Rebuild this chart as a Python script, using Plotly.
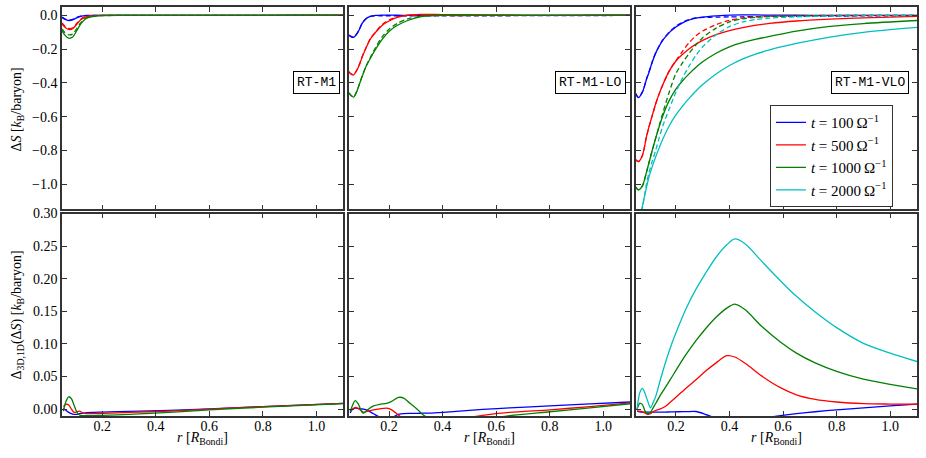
import plotly.graph_objects as go
from plotly.subplots import make_subplots

# ---------------- data ----------------
times = ["100", "500", "1000", "2000"]
colors = ["#0000ff", "#ff0000", "#008000", "#00bfbf"]
panel_names = ["RT-M1", "RT-M1-LO", "RT-M1-VLO"]
xticks = [0.2, 0.4, 0.6, 0.8, 1.0]
yticks_top = [-1.0, -0.8, -0.6, -0.4, -0.2, 0.0]
yticks_bot = [0.0, 0.05, 0.10, 0.15, 0.20, 0.25, 0.30]

# --- top row: Delta S (3D solid, 1D dashed) ---
r_m1 = [0.05, 0.06, 0.075, 0.09, 0.105, 0.12, 0.14, 0.17, 0.2, 0.3, 0.5, 0.7, 0.9, 1.1]
ds_m1_t100 = [-0.012, -0.022, -0.03, -0.026, -0.014, -0.005, -0.001, 0.0, 0.0, 0.0, 0.0, 0.0, 0.001, 0.002]
ds_m1_t500 = [-0.05, -0.068, -0.083, -0.078, -0.052, -0.025, -0.008, -0.002, 0.0, 0.0, 0.0, 0.0, 0.0, 0.001]
ds_m1_t1000 = [-0.09, -0.115, -0.135, -0.128, -0.09, -0.05, -0.018, -0.005, -0.001, 0.0, 0.0, 0.0, 0.0, 0.0]
ds1d_m1_t100 = [-0.01, -0.02, -0.028, -0.024, -0.012, -0.004, 0.0, 0.0, 0.0, 0.0, 0.0, 0.0, 0.0, 0.0]
ds1d_m1_t500 = [-0.045, -0.062, -0.077, -0.073, -0.048, -0.022, -0.006, -0.001, 0.0, 0.0, 0.0, 0.0, 0.0, 0.0]
ds1d_m1_t1000 = [-0.08, -0.1, -0.115, -0.11, -0.078, -0.043, -0.015, -0.004, -0.001, 0.0, 0.0, 0.0, 0.0, 0.0]

r_lo = [0.05, 0.06, 0.068, 0.08, 0.09, 0.1, 0.115, 0.13, 0.15, 0.175, 0.2, 0.23, 0.27, 0.32, 0.4, 0.6, 0.8, 1.1]
ds_lo_t100 = [-0.118, -0.128, -0.13, -0.11, -0.08, -0.046, -0.018, -0.006, 0.0, 0.002, 0.002, 0.001, 0.0, 0.0, 0.0, 0.0, 0.0, 0.002]
ds_lo_t500 = [-0.335, -0.35, -0.352, -0.325, -0.29, -0.245, -0.19, -0.14, -0.1, -0.058, -0.033, -0.012, 0.002, 0.006, 0.005, 0.002, 0.0, 0.001]
ds_lo_t1000 = [-0.46, -0.478, -0.484, -0.45, -0.405, -0.36, -0.3, -0.255, -0.2, -0.14, -0.095, -0.06, -0.03, -0.007, 0.002, 0.002, 0.0, 0.0]
ds1d_lo_t100 = [-0.116, -0.126, -0.128, -0.108, -0.078, -0.045, -0.018, -0.006, -0.002, -0.002, -0.002, -0.002, -0.002, -0.002, -0.002, -0.002, -0.001, 0.0]
ds1d_lo_t500 = [-0.333, -0.348, -0.35, -0.323, -0.288, -0.243, -0.188, -0.138, -0.097, -0.053, -0.027, -0.009, 0.0, 0.002, 0.0, 0.0, 0.0, 0.0]
ds1d_lo_t1000 = [-0.458, -0.476, -0.482, -0.448, -0.403, -0.358, -0.298, -0.25, -0.19, -0.125, -0.082, -0.048, -0.02, -0.004, 0.0, 0.0, 0.0, 0.0]

r_vlo = [0.05, 0.06, 0.075, 0.09, 0.1, 0.1125, 0.125, 0.1375, 0.15, 0.175, 0.2, 0.225,
         0.25, 0.275, 0.3, 0.35, 0.4, 0.45, 0.5, 0.55, 0.65, 0.775, 0.9, 1.1]
ds_vlo_t100 = [-0.465, -0.487, -0.455, -0.38, -0.335, -0.273, -0.222, -0.183, -0.15, -0.102, -0.068, -0.044,
               -0.027, -0.016, -0.01, -0.003, 0.002, 0.003, 0.003, 0.002, 0.001, 0.0, 0.0, 0.0]
ds_vlo_t500 = [-0.855, -0.866, -0.83, -0.72, -0.658, -0.589, -0.522, -0.465, -0.415, -0.33, -0.27, -0.23,
               -0.197, -0.17, -0.148, -0.114, -0.09, -0.072, -0.058, -0.047, -0.033, -0.022, -0.014, -0.005]
ds_vlo_t1000 = [-1.018, -1.034, -1.01, -0.93, -0.87, -0.795, -0.725, -0.66, -0.6, -0.505, -0.437, -0.387,
                -0.345, -0.307, -0.275, -0.224, -0.186, -0.16, -0.14, -0.124, -0.093, -0.065, -0.048, -0.03]
ds_vlo_t2000 = [-1.3, -1.25, -1.13, -1.02, -0.955, -0.893, -0.836, -0.785, -0.737, -0.655, -0.59, -0.537,
                -0.49, -0.448, -0.41, -0.347, -0.297, -0.258, -0.228, -0.204, -0.166, -0.128, -0.1, -0.071]
ds1d_vlo_t100 = [-0.463, -0.485, -0.453, -0.378, -0.333, -0.271, -0.22, -0.181, -0.148, -0.1, -0.064, -0.04,
                 -0.024, -0.015, -0.012, -0.01, -0.009, -0.008, -0.007, -0.006, -0.005, -0.004, -0.003, -0.002]
ds1d_vlo_t500 = [-0.855, -0.866, -0.83, -0.72, -0.658, -0.589, -0.522, -0.465, -0.415, -0.33, -0.268, -0.212,
                 -0.16, -0.12, -0.092, -0.055, -0.029, -0.015, -0.008, -0.005, -0.002, 0.0, 0.0, 0.0]
ds1d_vlo_t1000 = [-1.018, -1.034, -1.01, -0.93, -0.87, -0.795, -0.725, -0.655, -0.585, -0.455, -0.345, -0.28,
                  -0.223, -0.174, -0.132, -0.075, -0.038, -0.02, -0.011, -0.006, -0.003, -0.001, 0.0, 0.0]
ds1d_vlo_t2000 = [-1.3, -1.25, -1.14, -1.0, -0.93, -0.86, -0.797, -0.727, -0.66, -0.555, -0.455, -0.37,
                  -0.298, -0.236, -0.186, -0.115, -0.066, -0.038, -0.024, -0.016, -0.008, -0.004, -0.002, 0.0]

# --- bottom row: Delta_3D,1D (Delta S) ---
rb_m1 = [0.055, 0.065, 0.075, 0.085, 0.095, 0.105, 0.115, 0.13, 0.16, 0.2, 0.3, 0.45, 0.6, 0.8, 1.1]
dd_m1_t100 = [0.001, -0.002, -0.005, -0.007, -0.008, -0.008, -0.007, -0.006, -0.005, -0.0045, -0.0035, -0.002, 0.0005, 0.004, 0.009]
dd_m1_t500 = [0.004, 0.0075, 0.0065, 0.0, -0.005, -0.004, -0.003, -0.006, -0.007, -0.0065, -0.005, -0.003, 0.0, 0.004, 0.009]
dd_m1_t1000 = [-0.003, 0.012, 0.019, 0.016, 0.006, -0.004, -0.009, -0.01, -0.01, -0.0095, -0.008, -0.005, -0.001, 0.003, 0.0085]

rb_lo = [0.055, 0.062, 0.0735, 0.085, 0.098, 0.105, 0.12, 0.142, 0.165, 0.191, 0.21, 0.235,
         0.255, 0.278, 0.305, 0.328, 0.36, 0.45, 0.55, 0.65, 0.8, 0.95, 1.1]
dd_lo_t100 = [-0.006, -0.001, 0.0015, 0.001, 0.0003, 0.0, -0.002, -0.007, -0.012, -0.014, -0.013, -0.008,
              -0.0068, -0.0066, -0.0064, -0.0062, -0.006, -0.0035, -0.0005, 0.002, 0.005, 0.008, 0.011]
dd_lo_t500 = [-0.003, 0.0, 0.0025, 0.001, -0.003, -0.005, -0.003, -0.001, 0.0005, 0.0015, -0.001, -0.009,
              -0.015, -0.018, -0.02, -0.02, -0.02, -0.016, -0.0095, -0.005, -0.001, 0.004, 0.0097]
dd_lo_t1000 = [-0.004, 0.004, 0.013, 0.008, -0.004, -0.006, -0.001, 0.005, 0.0075, 0.009, 0.012, 0.018,
               0.017, 0.009, 0.0, -0.009, -0.016, -0.02, -0.016, -0.01, -0.004, 0.002, 0.0083]

rb_vlo = [0.055, 0.065, 0.075, 0.085, 0.095, 0.105, 0.115, 0.125, 0.14, 0.16, 0.18, 0.21, 0.24, 0.275,
          0.31, 0.35, 0.39, 0.42, 0.46, 0.52, 0.59, 0.65, 0.72, 0.8, 0.9, 1.0, 1.1]
dd_vlo_t100 = [-0.003, -0.004, -0.0045, -0.0045, -0.0045, -0.0045, -0.0045, -0.0045, -0.0045, -0.0045, -0.0043, -0.004,
               -0.0038, -0.0036, -0.008, -0.014, -0.017, -0.018, -0.017, -0.014, -0.01, -0.007, -0.004, -0.001, 0.002, 0.005, 0.0077]
dd_vlo_t500 = [-0.003, -0.003, -0.004, -0.006, -0.008, -0.007, -0.004, -0.002, 0.0, 0.004, 0.011, 0.022, 0.033, 0.045,
               0.058, 0.071, 0.082, 0.08, 0.07, 0.051, 0.033, 0.022, 0.015, 0.011, 0.0085, 0.0078, 0.0075]
dd_vlo_t1000 = [0.0, 0.009, 0.007, -0.003, -0.007, -0.005, 0.002, 0.009, 0.02, 0.033, 0.046, 0.066, 0.085, 0.105,
                0.123, 0.141, 0.155, 0.161, 0.152, 0.127, 0.103, 0.086, 0.071, 0.058, 0.046, 0.038, 0.031]
dd_vlo_t2000 = [0.0, 0.025, 0.032, 0.024, 0.012, 0.002, 0.01, 0.02, 0.042, 0.07, 0.095, 0.127, 0.156, 0.184,
                0.208, 0.233, 0.252, 0.261, 0.253, 0.227, 0.197, 0.173, 0.149, 0.125, 0.101, 0.086, 0.073]

top_panels = [
    (r_m1, [ds_m1_t100, ds_m1_t500, ds_m1_t1000], [ds1d_m1_t100, ds1d_m1_t500, ds1d_m1_t1000]),
    (r_lo, [ds_lo_t100, ds_lo_t500, ds_lo_t1000], [ds1d_lo_t100, ds1d_lo_t500, ds1d_lo_t1000]),
    (r_vlo, [ds_vlo_t100, ds_vlo_t500, ds_vlo_t1000, ds_vlo_t2000],
     [ds1d_vlo_t100, ds1d_vlo_t500, ds1d_vlo_t1000, ds1d_vlo_t2000]),
]
bottom_panels = [
    (rb_m1, [dd_m1_t100, dd_m1_t500, dd_m1_t1000]),
    (rb_lo, [dd_lo_t100, dd_lo_t500, dd_lo_t1000]),
    (rb_vlo, [dd_vlo_t100, dd_vlo_t500, dd_vlo_t1000, dd_vlo_t2000]),
]

# ---------------- figure ----------------
SERIF = "Liberation Serif, Times New Roman, serif"
MONO = "Liberation Mono, Courier New, monospace"
FRAME = "#333333"
LW = 1.3

fig = make_subplots(rows=2, cols=3, horizontal_spacing=0.0065, vertical_spacing=0.01)

for c, (r, solids, dashes) in enumerate(top_panels, start=1):
    for i, (ys, yd) in enumerate(zip(solids, dashes)):
        fig.add_trace(go.Scatter(x=r, y=yd, mode="lines",
                                 line=dict(color=colors[i], width=LW, dash="5px,3px", shape="spline", smoothing=0.8),
                                 showlegend=False, hoverinfo="skip"), row=1, col=c)
        fig.add_trace(go.Scatter(x=r, y=ys, mode="lines",
                                 line=dict(color=colors[i], width=LW, shape="spline", smoothing=0.8),
                                 name="<i>t</i> = " + times[i] + "\u2009\u03a9<sup>\u22121</sup>",
                                 showlegend=(c == 3), hoverinfo="skip"), row=1, col=c)

for c, (r, series) in enumerate(bottom_panels, start=1):
    for i, ys in enumerate(series):
        fig.add_trace(go.Scatter(x=r, y=ys, mode="lines",
                                 line=dict(color=colors[i], width=LW, shape="spline", smoothing=0.8),
                                 showlegend=False, hoverinfo="skip"), row=2, col=c)

axis_common = dict(showline=True, mirror="ticks", linecolor=FRAME, linewidth=1.6,
                   ticks="inside", ticklen=5, tickwidth=1, tickcolor=FRAME,
                   showgrid=False, zeroline=False, automargin=False,
                   tickfont=dict(family=SERIF, size=14, color="black"))

for row in (1, 2):
    for col in (1, 2, 3):
        fig.update_xaxes(range=[0.05, 1.1], tickvals=xticks, tickformat=".1f",
                         ticklabelstandoff=-4,
                         showticklabels=(row == 2), row=row, col=col, **axis_common)
        if row == 1:
            fig.update_yaxes(range=[-1.15, 0.05], tickvals=yticks_top, tickformat=".1f",
                             showticklabels=(col == 1), row=row, col=col, **axis_common)
        else:
            fig.update_yaxes(range=[-0.0105, 0.30], tickvals=yticks_bot, tickformat=".2f",
                             showticklabels=(col == 1), row=row, col=col, **axis_common)

annotations = []
box_x = [0.99, 0.986, 0.971]
for c, name in enumerate(panel_names):
    xr = "x domain" if c == 0 else "x%d domain" % (c + 1)
    yr = "y domain" if c == 0 else "y%d domain" % (c + 1)
    annotations.append(dict(text=name, xref=xr, yref=yr, x=box_x[c], y=0.626,
                            xanchor="right", yanchor="middle", showarrow=False,
                            font=dict(family=MONO, size=13, color="black"),
                            bordercolor="black", borderwidth=1, borderpad=3, bgcolor="white"))
    annotations.append(dict(text="<i>r</i> [<i>R</i><sub>Bondi</sub>]",
                            xref="x%d domain" % (c + 4), yref="paper", x=0.5, y=-0.056,
                            xanchor="center", yanchor="middle", showarrow=False,
                            font=dict(family=SERIF, size=14, color="black")))

annotations.append(dict(text="\u0394<i>S</i> [<i>k</i><sub>B</sub>/baryon]",
                        xref="paper", yref="paper", x=-0.052, y=0.748, textangle=-90,
                        xanchor="center", yanchor="middle", showarrow=False,
                        font=dict(family=SERIF, size=14, color="black")))
annotations.append(dict(text="\u0394<sub>3D,1D</sub>(\u0394<i>S</i>) [<i>k</i><sub>B</sub>/baryon]",
                        xref="paper", yref="paper", x=-0.052, y=0.247, textangle=-90,
                        xanchor="center", yanchor="middle", showarrow=False,
                        font=dict(family=SERIF, size=14, color="black")))

fig.update_layout(
    template="none",
    width=926, height=458,
    margin=dict(l=62, r=9, t=7, b=42, autoexpand=False),
    paper_bgcolor="white", plot_bgcolor="white",
    annotations=annotations,
    legend=dict(x=0.828, y=0.76, xanchor="left", yanchor="top",
                bordercolor=FRAME, borderwidth=1, bgcolor="white",
                font=dict(family=SERIF, size=15, color="black"),
                tracegroupgap=0),
    font=dict(family=SERIF, color="black"),
)

fig.write_html("out.html", config={"displayModeBar": False},
               post_script="document.body.style.margin='0';document.body.style.padding='0';")
